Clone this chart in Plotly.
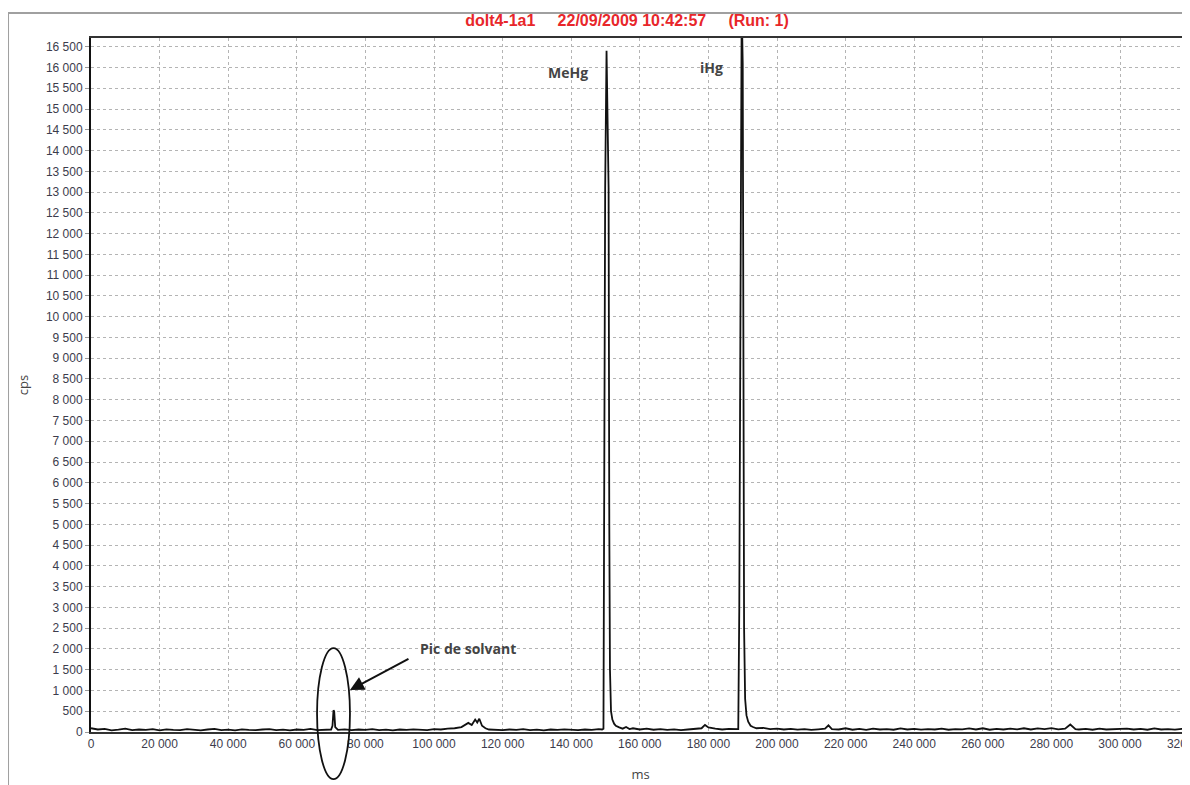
import plotly.graph_objects as go

# ---- data ----
time_ms = [
    0, 2000, 4000, 6000, 8000, 10000, 12000, 14000, 16000, 18000,
    20000, 22000, 24000, 26000, 28000, 30000, 32000, 34000, 36000, 38000,
    40000, 42000, 44000, 46000, 48000, 50000, 52000, 54000, 56000, 58000,
    60000, 62000, 64000, 66000, 68000,
    70000, 70400, 70700, 70900, 71200, 71600, 72000,
    74000, 76000, 78000, 80000, 82000, 84000, 86000, 88000, 90000, 92000, 94000, 96000, 98000,
    100000, 102000, 104000, 106000, 108000, 109000, 110000, 111000, 112000, 112600, 113200, 114000, 115000, 116000, 118000,
    120000, 122000, 124000, 126000, 128000, 130000, 132000, 134000, 136000, 138000,
    140000, 142000, 144000, 146000, 148000, 149000,
    149400, 149600, 149900, 150300, 150600, 150900, 151100, 151300, 151600, 152000, 152500, 153000, 154000, 155000, 156000, 157000, 158000,
    160000, 162000, 164000, 166000, 168000, 170000, 172000, 174000, 176000, 178000, 179000, 180000, 182000, 184000, 186000, 188000,
    188700, 189000, 189300, 189700, 190000, 190200, 190400, 190700, 191100, 191600, 192300, 193000, 194000, 196000, 198000,
    200000, 202000, 204000, 206000, 208000, 210000, 212000, 214000, 215000, 216000, 218000,
    220000, 222000, 224000, 226000, 228000, 230000, 232000, 234000, 236000, 238000,
    240000, 242000, 244000, 246000, 248000, 250000, 252000, 254000, 256000, 258000,
    260000, 262000, 264000, 266000, 268000, 270000, 272000, 274000, 276000, 278000,
    280000, 282000, 284000, 285500, 287000, 288000, 290000, 292000, 294000, 296000, 298000,
    300000, 302000, 304000, 306000, 308000, 310000, 312000, 314000, 316000, 318000, 320000,
]
cps = [
    90, 60, 75, 40, 55, 80, 45, 60, 50, 70,
    40, 65, 50, 45, 70, 55, 40, 60, 75, 45,
    55, 40, 65, 50, 45, 60, 70, 45, 55, 40,
    60, 50, 75, 45, 55,
    60, 150, 520, 500, 120, 70, 50,
    65, 45, 60, 50, 70, 45, 55, 40, 60, 50, 65, 55, 45,
    70, 60, 80, 90, 120, 180, 220, 170, 300, 230, 320, 150, 90, 60, 55,
    45, 60, 50, 70, 45, 55, 40, 60, 50, 65,
    55, 45, 60, 50, 70, 60,
    80, 4500, 13100, 16400, 15000, 13100, 5000, 1500, 500, 300, 200, 150, 110, 80, 120, 70, 90,
    60, 80, 55, 70, 50, 65, 45, 60, 70, 90, 170, 110, 80, 60, 75, 60,
    70, 3000, 12000, 17500, 16100, 6600, 2500, 800, 400, 250, 150, 120, 90, 100, 70,
    80, 60, 75, 55, 70, 50, 65, 80, 160, 70, 60,
    90, 55, 75, 50, 80, 60, 70, 55, 85, 60,
    75, 55, 70, 60, 80, 55, 70, 65, 85, 60,
    90, 55, 75, 60, 80, 65, 90, 60, 85, 70,
    95, 65, 80, 180, 70, 60, 75, 55, 80, 60, 70,
    65, 80, 60, 75, 55, 85, 60, 70, 55, 75, 60,
]

x_ticks = list(range(0, 320001, 20000))
y_ticks = list(range(0, 16501, 500))

peak_labels = ["MeHg", "iHg", "Pic de solvant"]
peak_label_t = [139000, 181000, 109900]
peak_label_cps = [15890, 16010, 2020]

gap = "\u00a0" * 5
title_text = "dolt4-1a1" + gap + "22/09/2009 10:42:57" + gap + "(Run: 1)"

FIG_W, FIG_H = 1182, 777

fig = go.Figure()
fig.add_trace(go.Scatter(
    x=time_ms, y=cps, mode="lines",
    line=dict(color="#111111", width=1.8),
    showlegend=False, hoverinfo="x+y",
))

tick_font = dict(family="Liberation Sans, Arial, sans-serif", size=12, color="#3c3c4c")
label_font = dict(family="Open Sans, Lato, sans-serif", size=14, color="#444444")

for txt, tx, ty in zip(peak_labels, peak_label_t, peak_label_cps):
    fig.add_annotation(x=tx, y=ty, text="<b>" + txt + "</b>", showarrow=False,
                       font=label_font, xanchor="center", yanchor="middle")

# arrow pointing to solvent peak ellipse
fig.add_annotation(x=75500, y=1010, ax=60, ay=-32, text="", showarrow=True,
                   arrowhead=2, arrowsize=1.4, arrowwidth=2, arrowcolor="#111111",
                   standoff=0)

# ellipse around the solvent peak
fig.add_shape(type="circle", xref="x", yref="paper",
              x0=65900, x1=75500, y0=-0.068, y1=0.121,
              line=dict(color="#111111", width=1.8))

# outer frame (top and left)
fig.add_shape(type="line", xref="paper", yref="paper", x0=-0.0755, x1=1.01, y0=1.036, y1=1.036,
              line=dict(color="#a0a0a0", width=2))
fig.add_shape(type="line", xref="paper", yref="paper", x0=-0.0755, x1=-0.0755, y0=1.036, y1=-0.1,
              line=dict(color="#a0a0a0", width=2))

fig.update_layout(
    width=FIG_W, height=FIG_H,
    margin=dict(l=83, r=0, t=30, b=53),
    paper_bgcolor="white", plot_bgcolor="white",
    separators=", ",
    title=dict(text="<b>" + title_text + "</b>", x=619 / FIG_W, xanchor="center",
               y=1 - 12 / FIG_H, yanchor="middle",
               font=dict(family="Liberation Sans, Arial, sans-serif", size=16, color="#e8262a")),
    xaxis=dict(
        range=[0, 320400], tickvals=x_ticks, tickformat=",d",
        showgrid=True, gridcolor="#b4b4b4", griddash="dot", gridwidth=1,
        showline=True, linecolor="#333333", linewidth=2, mirror=True,
        ticks="", tickfont=tick_font, zeroline=False, automargin=False,
        ticklabeloverflow="allow",
        title=dict(text="ms", font=dict(family="Open Sans, sans-serif", size=13, color="#444444"), standoff=19),
    ),
    yaxis=dict(
        range=[0, 16710], tickvals=y_ticks, tickformat=",d",
        showgrid=True, gridcolor="#b4b4b4", griddash="dot", gridwidth=1,
        showline=True, linecolor="#111111", linewidth=2,
        ticks="outside", ticklen=4, tickcolor="#999999", tickfont=tick_font, zeroline=False,
        automargin=False,
        title=dict(text="cps", font=dict(family="Open Sans, sans-serif", size=13, color="#444444"), standoff=14),
    ),
)

fig.write_html("out.html")
